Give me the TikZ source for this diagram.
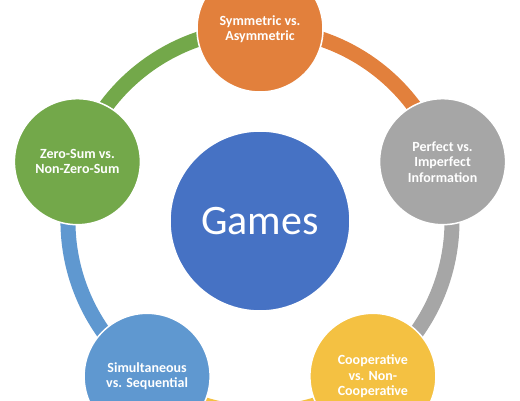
\documentclass[tikz,border=0pt]{standalone}
\usepackage{fontspec}
\setmainfont{Carlito}
\usepackage{tikz}
\usetikzlibrary{positioning}

\definecolor{gameblue}{RGB}{70,114,196}
\definecolor{symorange}{RGB}{226,128,60}
\definecolor{infogray}{RGB}{166,166,166}
\definecolor{coopyellow}{RGB}{244,193,66}
\definecolor{seqblue}{RGB}{95,152,208}
\definecolor{sumgreen}{RGB}{115,168,74}

\begin{document}
\begin{tikzpicture}[
  x=1pt, y=1pt,
  center/.style={circle, draw=white, line width=1.5pt, fill=gameblue,
                 minimum size=180pt, inner sep=0pt, text=white,
                 font=\fontsize{42}{46}\selectfont},
  kind/.style={circle, draw=white, line width=1.5pt, minimum size=126pt,
               inner sep=0pt, align=center, text=white,
               font=\fontsize{14}{15.5}\selectfont\bfseries},
  ring/.style={line width=15pt, draw=#1},
]
\useasboundingbox (0,0) rectangle (520,400);
\clip (0,0) rectangle (520,400);

% outer circles sit on a ring of radius 192 round the centre
\coordinate (mid) at (260,179);
\coordinate (c1) at (260,371);
\coordinate (c2) at (442.6,238.3);
\coordinate (c3) at (372.9,23.7);
\coordinate (c4) at (147.1,23.7);
\coordinate (c5) at (77.4,238.3);

% ring segments, clockwise
\draw[ring=symorange]  (c1) arc[start angle=90,  end angle=18,   radius=192];
\draw[ring=infogray]   (c2) arc[start angle=18,  end angle=-54,  radius=192];
\draw[ring=coopyellow] (c3) arc[start angle=-54, end angle=-126, radius=192];
\draw[ring=seqblue]    (c4) arc[start angle=234, end angle=162,  radius=192];
\draw[ring=sumgreen]   (c5) arc[start angle=162, end angle=90,   radius=192];

\node[center] (games) at (mid) {Games};
\node[kind, fill=symorange]  (sym)  at (c1) {Symmetric vs.\\Asymmetric};
\node[kind, fill=infogray]   (info) at (c2) {Perfect vs.\\Imperfect\\Information};
\node[kind, fill=coopyellow] (coop) at (c3) {Cooperative\\vs. Non-\\Cooperative};
\node[kind, fill=seqblue]    (seq)  at (c4) {Simultaneous\\vs. Sequential};
\node[kind, fill=sumgreen]   (sum)  at (c5) {Zero-Sum vs.\\Non-Zero-Sum};
\end{tikzpicture}
\end{document}
